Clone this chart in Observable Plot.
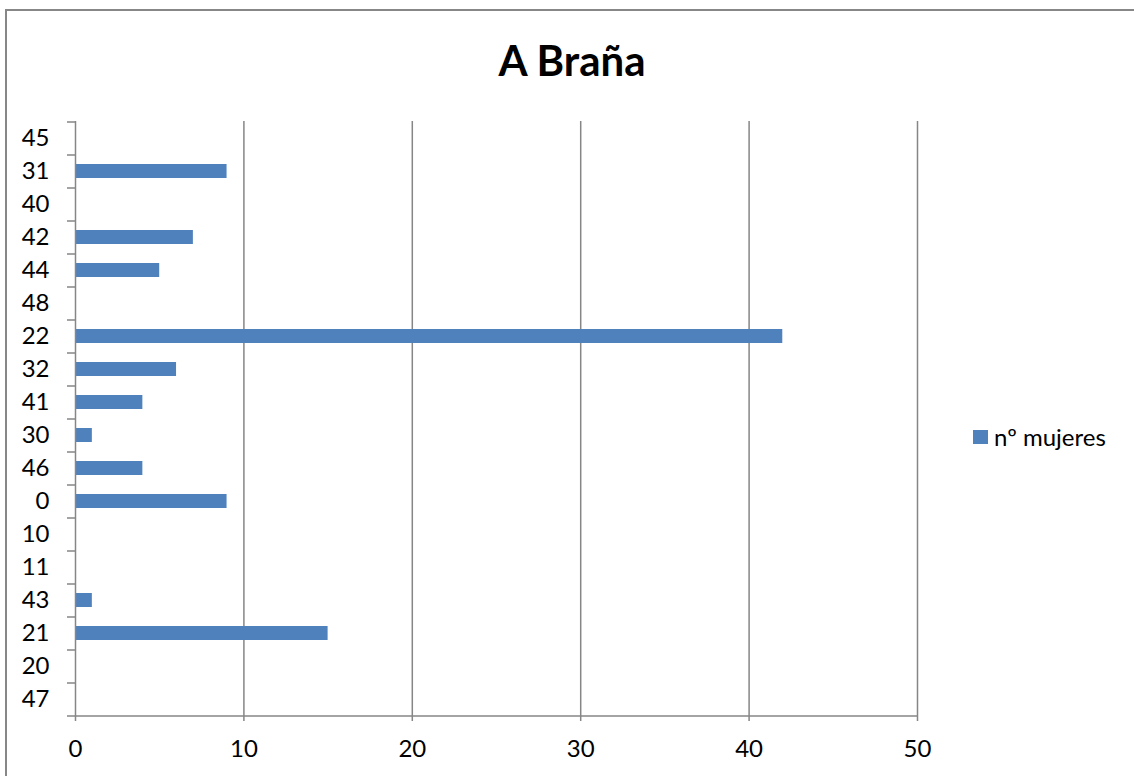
<!DOCTYPE html>
<html>
<head>
<meta charset="utf-8">
<script src="https://cdn.jsdelivr.net/npm/d3@7"></script>
<script src="https://cdn.jsdelivr.net/npm/@observablehq/plot@0.6"></script>
<style>
  html, body { margin: 0; padding: 0; background: #fff; overflow: hidden; }
  #wrap { position: relative; width: 1134px; height: 776px; overflow: hidden; font-family: Lato, "Open Sans", sans-serif; }
  #border { position: absolute; left: 5px; top: 9px; width: 1300px; height: 900px; border-left: 2px solid #878787; border-top: 2px solid #878787; box-sizing: border-box; }
  #title { position: absolute; left: 0; width: 1144px; top: 35px; text-align: center; font-weight: bold; font-size: 42px; line-height: 50px; color: #000; }
  #legend { position: absolute; left: 973px; top: 423px; font-size: 24px; line-height: 28px; color: #000; display: flex; align-items: center; }
  #legend .sw { width: 15px; height: 14px; background: #4F81BD; margin-right: 6px; }
  #chart { position: absolute; left: 0; top: 0; }
</style>
</head>
<body>
<div id="wrap">
  <div id="border"></div>
  <div id="chart"></div>
  <div id="title">A Braña</div>
  <div id="legend"><div class="sw"></div><span>nº mujeres</span></div>
</div>
<script>
const categories = ["45","31","40","42","44","48","22","32","41","30","46","0","10","11","43","21","20","47"];
const values = [0,9,0,7,5,0,42,6,4,1,4,9,0,0,1,15,0,0];
const xTicks = [0,10,20,30,40,50];
const seriesName = "nº mujeres";

const data = categories.map((c, i) => ({category: c, value: values[i]}));
const axisColor = "#868686";

const chart = Plot.plot({
  width: 1134,
  height: 776,
  marginLeft: 75,
  marginRight: 217,
  marginTop: 121,
  marginBottom: 61,
  style: {fontFamily: "Lato, 'Open Sans', sans-serif", fontSize: "24px", color: "#000", background: "transparent"},
  x: {domain: [0, 50]},
  y: {domain: categories, paddingInner: 0.58, paddingOuter: 0.29},
  marks: [
    Plot.gridX(xTicks.filter(d => d > 0), {stroke: axisColor, strokeOpacity: 1, strokeWidth: 1.5}),
    Plot.barX(data, {x: "value", y: "category", fill: "#4F81BD"}),
    Plot.ruleX([0], {stroke: axisColor, strokeWidth: 1.5}),
    Plot.ruleY([categories[categories.length - 1]], {y: d => d, x1: 0, x2: 50, dy: 16.5, stroke: axisColor, strokeWidth: 1.5}),
    Plot.axisY(categories, {tickSize: 8, text: null, label: null, dy: -16.5, stroke: axisColor, strokeWidth: 1.5}),
    Plot.axisY([categories[categories.length - 1]], {tickSize: 8, text: null, label: null, dy: 16.5, stroke: axisColor, strokeWidth: 1.5}),
    Plot.axisY(categories, {tickSize: 0, tickPadding: 26, label: null, fontSize: 24, fill: "#000"}),
    Plot.axisX(xTicks, {tickSize: 6, tickPadding: 18, label: null, fontSize: 24, stroke: axisColor, strokeWidth: 1.5, fill: "#000"})
  ]
});
document.getElementById("chart").appendChild(chart);
</script>
</body>
</html>
